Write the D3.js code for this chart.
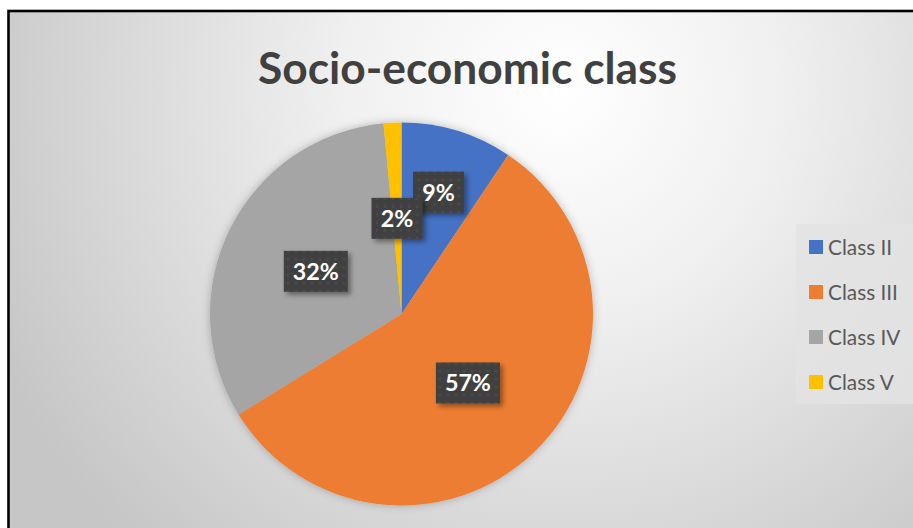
<!DOCTYPE html>
<html>
<head>
<meta charset="utf-8">
<script src="https://cdn.jsdelivr.net/npm/d3@7"></script>
<style>
  html, body { margin: 0; padding: 0; background: #ffffff; }
  svg { display: block; }
</style>
</head>
<body>
<svg id="chart" width="913" height="528"></svg>
<script>
// ---- data ----
const categories = ["Class II", "Class III", "Class IV", "Class V"];
const values = [9.4, 56.8, 32.3, 1.5];
const colors = ["#4472C4", "#ED7D31", "#A5A5A5", "#FFC000"];
const title = "Socio-economic class";

// ---- layout / style ----
const W = 913, H = 528;
const cx = 401.5, cy = 314, R = 191.5;
const labelRadiusFactor = [0.665, 0.5, 0.5, 0.5];
const FONT = "Lato, 'Open Sans', 'Noto Sans', sans-serif";

const svg = d3.select("#chart");
const defs = svg.append("defs");

// background gradient
const bg = defs.append("radialGradient").attr("id", "bgGrad")
  .attr("gradientUnits", "userSpaceOnUse")
  .attr("cx", 560).attr("cy", 90).attr("r", 620);
bg.append("stop").attr("offset", "0").attr("stop-color", "#ffffff");
bg.append("stop").attr("offset", "0.35").attr("stop-color", "#f0f0f0");
bg.append("stop").attr("offset", "1").attr("stop-color", "#c6c6c6");

// dotted pattern for label boxes
const pat = defs.append("pattern").attr("id", "dots")
  .attr("patternUnits", "userSpaceOnUse").attr("width", 8).attr("height", 8);
pat.append("rect").attr("width", 8).attr("height", 8).attr("fill", "#404040");
pat.append("circle").attr("cx", 4).attr("cy", 4).attr("r", 1.6).attr("fill", "#4a4a4a");

// shadows
const pieSh = defs.append("filter").attr("id", "pieShadow")
  .attr("x", "-20%").attr("y", "-20%").attr("width", "140%").attr("height", "140%");
pieSh.append("feDropShadow").attr("dx", 0).attr("dy", 0).attr("stdDeviation", 4)
  .attr("flood-color", "#000").attr("flood-opacity", 0.25);
const boxSh = defs.append("filter").attr("id", "boxShadow")
  .attr("x", "-30%").attr("y", "-30%").attr("width", "170%").attr("height", "170%");
boxSh.append("feDropShadow").attr("dx", 3).attr("dy", 3).attr("stdDeviation", 2.5)
  .attr("flood-color", "#000").attr("flood-opacity", 0.4);

// chart area background + frame
svg.append("rect").attr("x", 8.5).attr("y", 11).attr("width", W + 10).attr("height", H + 10)
  .attr("fill", "url(#bgGrad)").attr("stroke", "#000").attr("stroke-width", 2.6);

// fit text to a target width
function fit(sel, targetW) {
  const node = sel.node();
  const fs = parseFloat(sel.attr("font-size"));
  const w = node.getComputedTextLength();
  if (w > 0) sel.attr("font-size", (fs * targetW / w).toFixed(2));
}

// title
const t = svg.append("text").attr("x", 467.5).attr("y", 84)
  .attr("text-anchor", "middle").attr("font-family", FONT).attr("font-weight", 700)
  .attr("font-size", 40).attr("fill", "#404040").text(title);
fit(t, 419);

// pie
const pie = d3.pie().sort(null).value(d => d);
const arcs = pie(values);
const arc = d3.arc().innerRadius(0).outerRadius(R);

const g = svg.append("g").attr("transform", `translate(${cx},${cy})`);
const pg = g.append("g").attr("filter", "url(#pieShadow)");
pg.selectAll("path").data(arcs).join("path")
  .attr("d", arc).attr("fill", (d, i) => colors[i]);

// data labels
const fmt = d3.format(".0f");
const total = d3.sum(values);
// determine label font size so that a two-digit label is ~46px wide
const probe = svg.append("text").attr("font-family", FONT).attr("font-weight", 700)
  .attr("font-size", 24).text("57%");
const labelFS = 24 * 46 / probe.node().getComputedTextLength();
probe.remove();

arcs.forEach((a, i) => {
  const lr = R * labelRadiusFactor[i];
  const [lx, ly] = d3.arc().innerRadius(lr).outerRadius(lr).centroid(a);
  const txt = fmt(values[i] / total * 100) + "%";
  const lg = g.append("g").attr("transform", `translate(${lx},${ly})`);
  const rect = lg.append("rect").attr("fill", "url(#dots)").attr("filter", "url(#boxShadow)");
  const tx = lg.append("text").attr("text-anchor", "middle").attr("dy", "0.36em")
    .attr("font-family", FONT).attr("font-weight", 700).attr("font-size", labelFS.toFixed(2))
    .attr("fill", "#ffffff").text(txt);
  const tw = tx.node().getComputedTextLength();
  const bw = Math.round(tw + 18), bh = 41;
  rect.attr("x", -bw / 2).attr("y", -bh / 2).attr("width", bw).attr("height", bh);
});

// legend
const legend = svg.append("g");
legend.append("rect").attr("x", 796).attr("y", 224).attr("width", 130).attr("height", 180)
  .attr("fill", "#e3e3e3").attr("opacity", 0.85);
const yLeg = d3.scalePoint().domain(categories).range([247, 382]);
const items = legend.selectAll("g.item").data(categories).join("g").attr("class", "item")
  .attr("transform", d => `translate(809,${yLeg(d)})`);
items.append("rect").attr("x", 0).attr("y", -7).attr("width", 14).attr("height", 14)
  .attr("fill", (d, i) => colors[i]);
items.append("text").attr("x", 19).attr("dy", "0.36em")
  .attr("font-family", FONT).attr("font-size", 18).attr("fill", "#595959").text(d => d);
const lt = items.filter(d => d === "Class III").select("text");
const ltw = lt.node().getComputedTextLength();
items.selectAll("text").attr("font-size", (18 * 70 / ltw).toFixed(2));
</script>
</body>
</html>
